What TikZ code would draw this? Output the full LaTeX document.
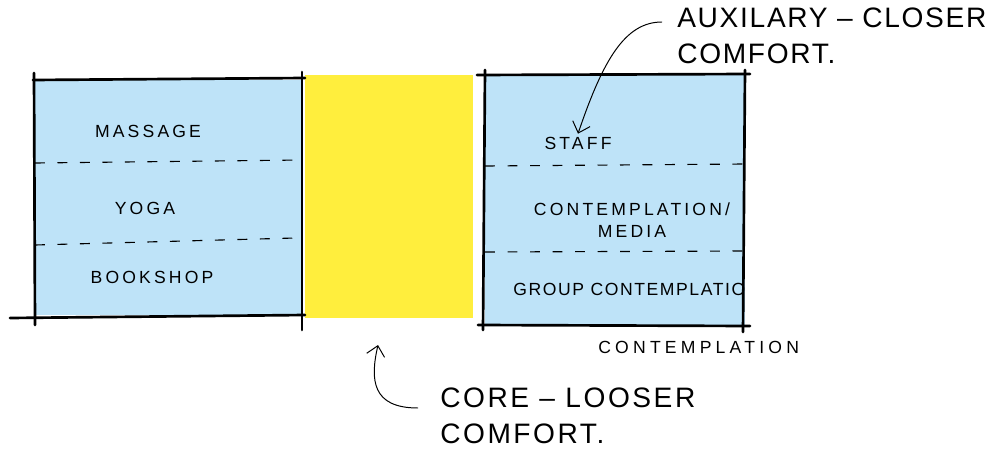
\documentclass[tikz,border=0pt]{standalone}
\usepackage{fontspec}
\setmainfont{Liberation Sans}
\usetikzlibrary{arrows.meta}
\definecolor{roomblue}{RGB}{190,227,248}
\definecolor{coreyellow}{RGB}{255,238,61}
\begin{document}
\begin{tikzpicture}[x=0.025cm,y=-0.025cm,
  wall/.style={line width=1.9pt, line cap=round},
  divider/.style={line width=0.8pt, dash pattern=on 7pt off 9pt},
  lbl/.style={font=\addfontfeatures{LetterSpace=18}\fontsize{12.5}{14}\selectfont, inner sep=0},
  note/.style={font=\addfontfeatures{LetterSpace=6}\fontsize{20}{25}\selectfont, inner sep=0, anchor=north west, align=left},
  pointer/.style={line width=0.7pt, -{Straight Barb[length=7pt,width=13pt]}}]
\useasboundingbox (0,0) rectangle (992,453);
% fills
\fill[roomblue] (35,80) rectangle (302,315);
\fill[coreyellow] (305,75) rectangle (473,318);
\fill[roomblue] (485,75) rectangle (745,325);
% left block walls
\draw[wall] (33,80) -- (305,78);
\draw[wall] (34,73) -- (35,325);
\draw[wall] (10,318) -- (305,315);
\draw[wall] (302,72) -- (302,330);
% right block walls
\draw[wall] (477,75) -- (750,74);
\draw[wall] (485,70) -- (483,330);
\draw[wall] (745,70) -- (743,332);
\draw[wall] (478,325) -- (750,326);
% dividers
\draw[divider] (35,163) -- (302,160);
\draw[divider] (35,245) -- (295,238);
\draw[divider] (485,166) -- (745,164);
\draw[divider] (485,252) -- (748,251);
% labels
\node[lbl] (massage) at (148,131) {MASSAGE};
\node[lbl] (yoga) at (145,208) {YOGA};
\node[lbl] (bookshop) at (152,277) {BOOKSHOP};
\node[lbl] (staff) at (578,143) {STAFF};
\node[lbl, align=center] (contemp) at (632,220) {CONTEMPLATION/\\[2pt]MEDIA};
\node[lbl, anchor=west, font=\addfontfeatures{LetterSpace=9}\fontsize{12.5}{14}\selectfont] (group) at (513,289) {GROUP CONTEMPLATIO};
\node[lbl, anchor=west, font=\addfontfeatures{LetterSpace=24}\fontsize{12.5}{14}\selectfont] (contlabel) at (598,347) {CONTEMPLATION};
% annotations
\node[note] (aux) at (677,8) {AUXILARY -- CLOSER\\COMFORT.};
\node[note, font=\addfontfeatures{LetterSpace=9}\fontsize{20}{25}\selectfont] (core) at (440,388) {CORE -- LOOSER\\COMFORT.};
\coordinate (auxstart) at (662,22);
\coordinate (corestart) at (418,408);
\coordinate (coreend) at (378,345);
\draw[pointer] (auxstart) .. controls (625,22) and (603,60) .. ([yshift=2pt]staff.north);
\draw[pointer] (corestart) .. controls (372,408) and (370,380) .. (coreend);
\end{tikzpicture}
\end{document}
